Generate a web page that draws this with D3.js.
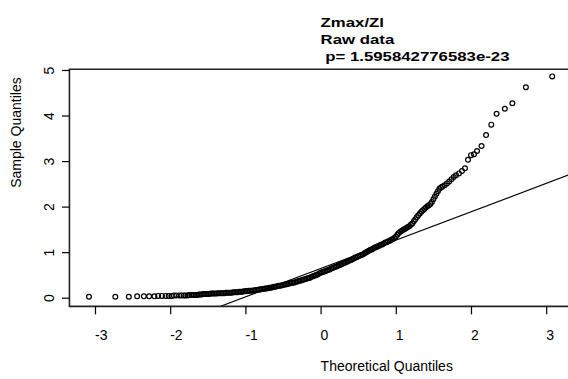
<!DOCTYPE html>
<html>
<head>
<meta charset="utf-8">
<script src="https://cdn.jsdelivr.net/npm/d3@7"></script>
<style>
  html, body { margin: 0; padding: 0; background: #fff; }
  svg { display: block; font-family: "Liberation Sans", Arial, sans-serif; }
</style>
</head>
<body>
<svg id="chart" width="568" height="379"></svg>
<script>
// Normal Q-Q plot of Zmax/Zl (raw data)
const titleLines = ["Zmax/Zl", "Raw data", " p= 1.595842776583e-23"];
const xLabel = "Theoretical Quantiles";
const yLabel = "Sample Quantiles";
const xTicks = [-3, -2, -1, 0, 1, 2, 3];
const yTicks = [0, 1, 2, 3, 4, 5];

// theoretical (normal) quantiles
const theoreticalQ = [
  -3.08, -2.73, -2.55, -2.44, -2.35, -2.28, -2.21, -2.16, -2.11, -2.06,
  -2.02, -1.98, -1.95, -1.92, -1.88, -1.85, -1.82, -1.80, -1.77, -1.75,
  -1.72, -1.70, -1.68, -1.66, -1.64,
  -1.62, -1.60, -1.58, -1.56, -1.54, -1.52, -1.50, -1.48, -1.46, -1.44,
  -1.42, -1.40, -1.38, -1.36, -1.34, -1.32, -1.30, -1.28, -1.26, -1.24,
  -1.22, -1.20, -1.18, -1.16, -1.14, -1.12, -1.10, -1.08, -1.06, -1.04,
  -1.02, -1.00, -0.98, -0.96, -0.94, -0.92, -0.90, -0.88, -0.86, -0.84,
  -0.82, -0.80, -0.78, -0.76, -0.74, -0.72, -0.70, -0.68, -0.66, -0.64,
  -0.62, -0.60, -0.58, -0.56, -0.54, -0.52, -0.50, -0.48, -0.46, -0.44,
  -0.42, -0.40, -0.38, -0.36, -0.34, -0.32, -0.30, -0.28, -0.26, -0.24,
  -0.22, -0.20, -0.18, -0.16, -0.14, -0.12, -0.10, -0.08, -0.06, -0.04,
  -0.02, 0.00, 0.02, 0.04, 0.06, 0.08, 0.10, 0.12, 0.14, 0.16,
  0.18, 0.20, 0.22, 0.24, 0.26, 0.28, 0.30, 0.32, 0.34, 0.36,
  0.38, 0.40, 0.42, 0.44, 0.46, 0.48, 0.50, 0.52, 0.54, 0.56,
  0.58, 0.60, 0.62, 0.64, 0.66, 0.68, 0.70, 0.72, 0.74, 0.76,
  0.78, 0.80, 0.82, 0.84, 0.86, 0.88, 0.90, 0.92, 0.94,
  0.96, 0.98, 1.00, 1.02, 1.04, 1.06, 1.08, 1.10, 1.12, 1.14,
  1.16, 1.18, 1.20, 1.22, 1.24, 1.26, 1.28, 1.30, 1.32, 1.34,
  1.36, 1.38, 1.40, 1.42, 1.44, 1.46, 1.48, 1.50, 1.52, 1.54,
  1.56, 1.58, 1.60, 1.62, 1.65, 1.68, 1.71, 1.74, 1.77, 1.80,
  1.84, 1.88, 1.92, 1.96, 2.00, 2.04, 2.08, 2.14, 2.20, 2.27,
  2.34, 2.45, 2.55, 2.73, 3.08
];

// observed sample quantiles
const sampleQ = [
  0.02, 0.02, 0.02, 0.03, 0.03, 0.03, 0.03, 0.04, 0.04, 0.04,
  0.04, 0.04, 0.05, 0.05, 0.05, 0.05, 0.05, 0.05, 0.05, 0.06,
  0.06, 0.06, 0.06, 0.06, 0.06,
  0.07, 0.07, 0.07, 0.08, 0.08, 0.08, 0.08, 0.08, 0.09, 0.09,
  0.09, 0.09, 0.09, 0.10, 0.10, 0.10, 0.10, 0.10, 0.11, 0.11,
  0.11, 0.11, 0.11, 0.12, 0.12, 0.12, 0.12, 0.13, 0.13, 0.13,
  0.14, 0.14, 0.14, 0.15, 0.15, 0.15, 0.16, 0.16, 0.17, 0.17,
  0.18, 0.18, 0.19, 0.19, 0.20, 0.20, 0.21, 0.22, 0.22, 0.23,
  0.24, 0.24, 0.25, 0.26, 0.26, 0.27, 0.28, 0.29, 0.29, 0.30,
  0.31, 0.32, 0.33, 0.33, 0.34, 0.35, 0.36, 0.37, 0.38, 0.39,
  0.40, 0.41, 0.42, 0.43, 0.44, 0.46, 0.47, 0.48, 0.50, 0.51,
  0.53, 0.55, 0.56, 0.57, 0.58, 0.60, 0.61, 0.62, 0.64, 0.65,
  0.67, 0.68, 0.69, 0.71, 0.72, 0.74, 0.75, 0.77, 0.78, 0.80,
  0.81, 0.83, 0.84, 0.86, 0.88, 0.89, 0.91, 0.92, 0.94, 0.95,
  0.97, 0.99, 1.01, 1.03, 1.05, 1.06, 1.08, 1.10, 1.11, 1.13,
  1.14, 1.16, 1.17, 1.19, 1.21, 1.22, 1.24, 1.25, 1.27,
  1.29, 1.31, 1.34, 1.38, 1.42, 1.45, 1.47, 1.49, 1.51, 1.53,
  1.55, 1.57, 1.60, 1.63, 1.68, 1.72, 1.77, 1.81, 1.85, 1.89,
  1.92, 1.95, 1.98, 2.01, 2.03, 2.06, 2.10, 2.16, 2.22, 2.28,
  2.34, 2.39, 2.42, 2.44, 2.47, 2.51, 2.55, 2.60, 2.65, 2.69,
  2.73, 2.78, 2.84, 3.03, 3.13, 3.15, 3.22, 3.33, 3.57, 3.80,
  4.04, 4.15, 4.27, 4.62, 4.86
];

// reference line through the first and third quartiles
const quartileX = [-0.674, 0.674];
const quartileY = [0.22, 1.06];

// plot limits (data range widened by 4%)
const xLim = [-3.34, 3.34];
const yLim = [-0.19, 5.015];

const svg = d3.select("#chart");

const x = d3.scaleLinear().domain([-3, 3]).range([95, 546.2]);
const y = d3.scaleLinear().domain([0, 5]).range([297.7, 70]);

const plotLeft = x(xLim[0]), plotRight = x(xLim[1]);
const plotTop = y(yLim[1]), plotBottom = y(yLim[0]);

svg.append("defs").append("clipPath").attr("id", "plotClip")
  .append("rect")
  .attr("x", plotLeft).attr("y", plotTop)
  .attr("width", plotRight - plotLeft).attr("height", plotBottom - plotTop);

// points
const pts = theoreticalQ.map((t, i) => ({ t, s: sampleQ[i] }));
svg.append("g")
  .selectAll("circle")
  .data(pts)
  .join("circle")
  .attr("cx", d => x(d.t))
  .attr("cy", d => y(d.s))
  .attr("r", 2.4)
  .attr("fill", "none")
  .attr("stroke", "#000")
  .attr("stroke-width", 1.2);

// qqline
const slope = (quartileY[1] - quartileY[0]) / (quartileX[1] - quartileX[0]);
const intercept = quartileY[0] - slope * quartileX[0];
svg.append("line")
  .attr("clip-path", "url(#plotClip)")
  .attr("x1", x(xLim[0] - 1)).attr("y1", y(intercept + slope * (xLim[0] - 1)))
  .attr("x2", x(xLim[1] + 1)).attr("y2", y(intercept + slope * (xLim[1] + 1)))
  .attr("stroke", "#000")
  .attr("stroke-width", 1.1);

// box
svg.append("path")
  .attr("d", `M${plotRight + 5},${plotTop}H${plotLeft}V${plotBottom}H${plotRight + 5}`)
  .attr("fill", "none")
  .attr("stroke", "#222")
  .attr("stroke-width", 1.6);

// x axis
const xAxis = svg.append("g").attr("transform", `translate(0,${plotBottom})`)
  .call(d3.axisBottom(x).tickValues(xTicks).tickSize(8).tickSizeOuter(0).tickFormat(d3.format("d")));
xAxis.select(".domain").remove();
xAxis.selectAll(".tick line").attr("stroke", "#000").attr("stroke-width", 1.2);
xAxis.selectAll(".tick text")
  .attr("font-size", 14)
  .attr("font-family", "Liberation Sans, Arial, sans-serif")
  .attr("fill", "#000")
  .attr("text-anchor", "start")
  .attr("x", -0.5)
  .attr("y", 34)
  .attr("dy", null)
  .text(d => d < 0 ? "-" + Math.abs(d) : String(d));

// y axis
const yAxis = svg.append("g").attr("transform", `translate(${plotLeft},0)`)
  .call(d3.axisLeft(y).tickValues(yTicks).tickSize(7.5).tickSizeOuter(0).tickFormat(d3.format("d")));
yAxis.select(".domain").remove();
yAxis.selectAll(".tick line").attr("stroke", "#000").attr("stroke-width", 1.2);
yAxis.selectAll(".tick text")
  .attr("font-size", 14)
  .attr("font-family", "Liberation Sans, Arial, sans-serif")
  .attr("fill", "#000")
  .attr("text-anchor", "middle")
  .attr("x", null).attr("dy", null)
  .attr("transform", `translate(${53.5 - plotLeft},0) rotate(-90)`);

// axis titles
const midX = (plotLeft + plotRight) / 2;
const midY = (plotTop + plotBottom) / 2;
svg.append("text")
  .attr("x", midX).attr("y", 371)
  .attr("font-size", 14)
  .attr("fill", "#000")
  .text(xLabel);
svg.append("text")
  .attr("transform", `translate(20.5,${midY}) rotate(-90)`)
  .attr("font-size", 14)
  .attr("fill", "#000")
  .text(yLabel);

// main title
const titleBaselines = [26.5, 44, 60.5];
svg.append("g")
  .selectAll("text")
  .data(titleLines)
  .join("text")
  .attr("transform", (d, i) => `translate(${midX},${titleBaselines[i]}) scale(1.4,1)`)
  .attr("font-size", 12)
  .attr("font-weight", "bold")
  .attr("fill", "#000")
  .attr("xml:space", "preserve")
  .style("white-space", "pre")
  .text(d => d);
</script>
</body>
</html>
